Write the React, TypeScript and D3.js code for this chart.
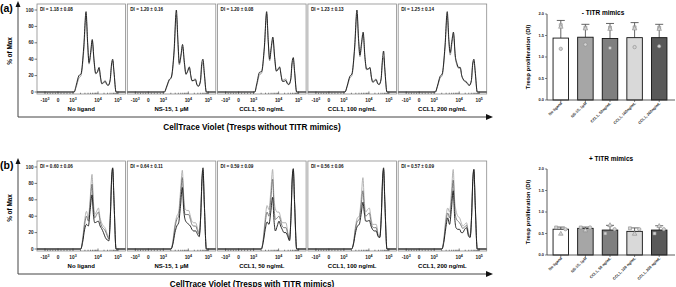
import React from "react";
import * as d3 from "d3";

const FONT = "'Liberation Sans', Arial, Helvetica, sans-serif";

// ---------- histogram panels ----------
const panelLabels = ["No ligand", "NS-15, 1 μM", "CCL1, 50 ng/mL", "CCL1, 100 ng/mL", "CCL1, 200 ng/mL"];
const diTextsA = ["DI = 1.18 ± 0.08", "DI = 1.20 ± 0.16", "DI = 1.20 ± 0.08", "DI = 1.23 ± 0.13", "DI = 1.25 ± 0.14"];
const diTextsB = ["DI = 0.60 ± 0.06", "DI = 0.64 ± 0.11", "DI = 0.59 ± 0.09", "DI = 0.56 ± 0.06", "DI = 0.57 ± 0.09"];
const histYTicks = [0, 20, 40, 60, 80, 100];
// x ticks in decade units: -10^3, 0, 10^3, 10^4, 10^5
const histXTicks = [-1, 0, 1, 2, 3];
const histXTickBase = ["-10", "0", "10", "10", "10"];
const histXTickExp = ["3", "", "3", "4", "5"];

// shared x positions (decade units) for row (a) curves
const xsA = [-2.2, 1.046, 1.126, 1.236, 1.319, 1.43, 1.522, 1.586, 1.641, 1.706, 1.77, 1.844, 1.908, 1.972, 2.053, 2.126, 2.189, 2.273, 2.357, 2.441, 2.515, 2.609, 2.672, 2.735, 2.798, 2.903, 3.3];
// per panel: [black, gray] % of max
const histA = [
  [
    [0, 0, 8, 20, 22, 55, 98, 60, 36, 48, 64, 38, 23, 24, 30, 18, 10, 11, 13, 9, 8, 15, 33, 40, 25, 0, 0],
    [0, 0, 6, 17, 20, 50, 92, 58, 34, 46, 62, 36, 22, 24, 29, 17, 11, 12, 14, 10, 9, 14, 30, 38, 24, 0, 0],
  ],
  [
    [0, 0, 6, 15, 18, 50, 100, 62, 35, 45, 58, 36, 22, 25, 30, 20, 14, 14, 15, 8, 7, 14, 35, 40, 24, 0, 0],
    [0, 0, 5, 14, 17, 46, 94, 58, 33, 43, 55, 34, 21, 26, 31, 19, 13, 15, 16, 9, 8, 13, 30, 36, 22, 0, 0],
  ],
  [
    [0, 0, 10, 24, 25, 55, 98, 62, 40, 55, 67, 42, 26, 27, 30, 20, 13, 13, 14, 10, 9, 16, 36, 42, 26, 0, 0],
    [0, 0, 8, 21, 23, 52, 95, 60, 38, 52, 64, 40, 25, 28, 31, 21, 14, 15, 16, 11, 10, 15, 33, 39, 24, 0, 0],
  ],
  [
    [0, 0, 7, 19, 22, 55, 100, 65, 45, 60, 73, 42, 28, 28, 30, 18, 12, 13, 15, 10, 9, 16, 38, 50, 28, 0, 0],
    [0, 0, 6, 17, 20, 52, 95, 62, 43, 57, 70, 40, 27, 28, 29, 18, 13, 14, 16, 11, 10, 15, 34, 42, 25, 0, 0],
  ],
  [
    [0, 0, 7, 19, 22, 55, 98, 64, 48, 62, 73, 44, 35, 30, 30, 20, 16, 13, 12, 9, 8, 14, 34, 40, 26, 0, 0],
    [0, 0, 6, 17, 20, 52, 93, 60, 45, 58, 70, 42, 33, 29, 29, 20, 16, 14, 13, 10, 9, 14, 32, 38, 24, 0, 0],
  ],
];

// shared x positions (decade units) for row (b) curves
const xsB = [-2.2, 1.31, 1.384, 1.466, 1.54, 1.614, 1.687, 1.761, 1.816, 1.871, 1.945, 2.021, 2.105, 2.179, 2.273, 2.368, 2.462, 2.546, 2.62, 2.683, 2.735, 2.798, 2.903, 3.3];
// per panel: [black, mid gray, light gray]
const histB = [
  [
    [0, 0, 8, 24, 30, 28, 48, 66, 42, 32, 33, 34, 28, 25, 20, 14, 11, 10, 40, 88, 99, 60, 0, 0],
    [0, 0, 10, 30, 40, 34, 55, 79, 50, 38, 42, 45, 34, 28, 25, 22, 16, 12, 42, 85, 98, 60, 0, 0],
    [0, 0, 12, 35, 46, 38, 62, 91, 58, 42, 46, 50, 38, 32, 28, 25, 18, 14, 45, 85, 97, 60, 0, 0],
  ],
  [
    [0, 0, 6, 20, 28, 32, 52, 75, 48, 36, 32, 30, 28, 24, 22, 22, 18, 15, 40, 86, 99, 58, 0, 0],
    [0, 0, 8, 26, 36, 40, 63, 87, 58, 42, 42, 42, 36, 30, 28, 28, 22, 18, 40, 82, 96, 57, 0, 0],
    [0, 0, 10, 30, 40, 45, 70, 96, 65, 49, 47, 47, 40, 34, 32, 32, 25, 20, 40, 80, 93, 55, 0, 0],
  ],
  [
    [0, 0, 8, 24, 33, 30, 45, 63, 35, 22, 28, 34, 28, 24, 20, 20, 15, 10, 40, 88, 98, 58, 0, 0],
    [0, 0, 10, 32, 45, 40, 60, 85, 52, 36, 38, 40, 34, 28, 26, 26, 18, 11, 40, 84, 97, 56, 0, 0],
    [0, 0, 12, 38, 53, 48, 70, 97, 62, 49, 45, 45, 38, 32, 32, 32, 20, 12, 40, 82, 95, 55, 0, 0],
  ],
  [
    [0, 0, 6, 20, 28, 30, 42, 57, 44, 34, 34, 35, 28, 24, 22, 22, 15, 14, 40, 86, 99, 58, 0, 0],
    [0, 0, 7, 25, 34, 36, 52, 71, 50, 40, 42, 44, 33, 27, 26, 26, 16, 15, 40, 82, 97, 56, 0, 0],
    [0, 0, 8, 28, 38, 40, 60, 87, 58, 45, 48, 50, 38, 30, 30, 30, 18, 16, 40, 80, 96, 55, 0, 0],
  ],
  [
    [0, 0, 8, 26, 38, 30, 48, 71, 40, 26, 24, 24, 20, 20, 24, 26, 16, 14, 40, 86, 97, 57, 0, 0],
    [0, 0, 10, 32, 44, 38, 58, 84, 52, 38, 34, 32, 28, 25, 27, 29, 18, 15, 40, 84, 97, 56, 0, 0],
    [0, 0, 12, 38, 50, 45, 68, 97, 60, 47, 40, 38, 32, 28, 30, 32, 20, 16, 40, 82, 96, 55, 0, 0],
  ],
];

// ---------- bar charts ----------
const barCatsA = ["No ligand", "NS-15, 1μM", "CCL1, 50ng/mL", "CCL1, 100ng/mL", "CCL1, 200ng/mL"];
const barCatsB = ["No ligand", "NS-15, 1μM", "CCL1, 50 ng/mL", "CCL1, 100 ng/mL", "CCL1, 200 ng/mL"];
const barFills = ["#ffffff", "#a6a6a6", "#7f7f7f", "#d9d9d9", "#595959"];
const barTicks = [0, 0.5, 1.0, 1.5, 2.0];

const meansA = [1.44, 1.46, 1.43, 1.45, 1.45];
const upperA = [1.85, 1.76, 1.78, 1.8, 1.76];
const pointsA = [
  [1.74, 1.7, 1.19],
  [1.68, 1.66, 1.29],
  [1.68, 1.65, 1.21],
  [1.69, 1.66, 1.23],
  [1.68, 1.65, 1.25],
];
const meansB = [0.6, 0.62, 0.58, 0.55, 0.58];
const upperB = [0.65, 0.65, 0.69, 0.63, 0.68];
const pointsB = [
  [0.64, 0.49, 0.6],
  [0.64, 0.57, 0.64],
  [0.5, 0.69, 0.6],
  [0.62, 0.49, 0.6],
  [0.5, 0.67, 0.6],
];
const jitterA = [0, 0, 0];
const jitterB = [-0.3, 0, 0.3];

function HistRow({ top, tag, title, xs, curves, dis, colors }: any) {
  const pitch = 90.3;
  const pw = 88.5;
  const x0 = 37;
  const yS = d3.scaleLinear().domain([0, 100]).range([top + 92, top + 10]);
  const minor: number[] = [];
  [-0.8, -0.6, -0.4, -0.2, 0.2, 0.4, 0.6, 0.8].forEach((v) => minor.push(v));
  [1, 2].forEach((k) => d3.range(2, 10).forEach((m) => minor.push(k + Math.log10(m))));
  return (
    <g>
      <text x={0} y={top + 12} fontSize={10.5} fontWeight="bold" fontFamily={FONT}>
        {tag}
      </text>
      <line x1={18} y1={top + 6} x2={18} y2={top + 117} stroke="#444" strokeWidth={1} />
      <polygon points={`15.5,${top + 7} 20.5,${top + 7} 18,${top + 1}`} fill="#111" />
      <line x1={18} y1={top + 117} x2={487} y2={top + 117} stroke="#444" strokeWidth={1} />
      <polygon points={`486,${top + 114} 486,${top + 120} 493,${top + 117}`} fill="#111" />
      <text
        transform={`translate(12,${top + 51}) rotate(-90)`}
        textAnchor="middle"
        fontSize={6.4}
        fontWeight="bold"
        fontFamily={FONT}
      >
        % of Max
      </text>
      <text x={252} y={top + 129.5} textAnchor="middle" fontSize={8.2} fontWeight="bold" fontFamily={FONT}>
        {title}
      </text>
      {panelLabels.map((lab, i) => {
        const left = x0 + i * pitch;
        const xS = d3
          .scaleLinear()
          .domain([-2.2, -1, 0, 1, 2, 3, 3.3])
          .range([left, left + 8, left + 21, left + 36, left + 61, left + 81, left + pw]);
        const line = d3
          .line<number>()
          .x((_, k) => xS(xs[k]))
          .y((d) => yS(d))
          .curve(d3.curveMonotoneX);
        const bottom = top + 94;
        return (
          <g key={i}>
            <rect x={left} y={top + 4} width={pw} height={90} fill="#fff" stroke="#8c8c8c" strokeWidth={0.8} />
            {curves[i]
              .map((ys: number[], j: number) => (
                <path key={j} d={line(ys) || ""} fill="none" stroke={colors[j]} strokeWidth={0.9} />
              ))
              .reverse()}
            {histXTicks.map((t) => (
              <line key={t} x1={xS(t)} x2={xS(t)} y1={bottom} y2={bottom - 2.5} stroke="#222" strokeWidth={0.6} />
            ))}
            {minor.map((t, k) => (
              <line key={k} x1={xS(t)} x2={xS(t)} y1={bottom} y2={bottom - 1.3} stroke="#222" strokeWidth={0.5} />
            ))}
            {histXTicks.map((t, k) => (
              <text
                key={t}
                x={xS(t)}
                y={top + 101.5}
                textAnchor="middle"
                fontSize={4.8}
                fontWeight="bold"
                fontFamily={FONT}
                fill="#222"
              >
                {histXTickBase[k]}
                {histXTickExp[k] && (
                  <tspan dy={-2} fontSize={3.6}>
                    {histXTickExp[k]}
                  </tspan>
                )}
              </text>
            ))}
            <text x={left + 3} y={top + 10.5} fontSize={4.6} fontWeight="bold" fontFamily={FONT} fill="#111">
              {dis[i]}
            </text>
            <text
              x={left + pw / 2}
              y={top + 111}
              textAnchor="middle"
              fontSize={6}
              fontWeight="bold"
              fontFamily={FONT}
            >
              {lab}
            </text>
            {i === 0 &&
              histYTicks.map((t) => (
                <g key={t}>
                  <line x1={left - 2.5} x2={left} y1={yS(t)} y2={yS(t)} stroke="#222" strokeWidth={0.6} />
                  <text
                    x={left - 3.5}
                    y={yS(t) + 1.6}
                    textAnchor="end"
                    fontSize={4.6}
                    fontWeight="bold"
                    fontFamily={FONT}
                    fill="#222"
                  >
                    {t}
                  </text>
                </g>
              ))}
          </g>
        );
      })}
    </g>
  );
}

function BarChart({ top, title, titleX, titleY, cats, means, uppers, points, jitter }: any) {
  const axisX = 547;
  const yS = d3.scaleLinear().domain([0, 2]).range([top + 100, top + 14]);
  const xS = d3
    .scaleBand<string>()
    .domain(cats)
    .range([548.5, 671.5])
    .paddingInner(0.37)
    .paddingOuter(0.185);
  const bw = xS.bandwidth();
  const sym = [d3.symbolSquare, d3.symbolTriangle, d3.symbolCircle];
  return (
    <g fontFamily={FONT}>
      <text x={titleX} y={titleY} textAnchor="middle" fontSize={6.5} fontWeight="bold">
        {title}
      </text>
      <text
        transform={`translate(530,${top + 57}) rotate(-90)`}
        textAnchor="middle"
        fontSize={6}
        fontWeight="bold"
      >
        Tresp proliferation (DI)
      </text>
      {cats.map((c: string, i: number) => {
        const x = xS(c) as number;
        const cx = x + bw / 2;
        return (
          <g key={c}>
            <line x1={cx} x2={cx} y1={yS(means[i])} y2={yS(uppers[i])} stroke="#555" strokeWidth={0.9} />
            <line x1={cx - 4} x2={cx + 4} y1={yS(uppers[i])} y2={yS(uppers[i])} stroke="#555" strokeWidth={0.9} />
            <rect
              x={x}
              y={yS(means[i])}
              width={bw}
              height={yS(0) - yS(means[i])}
              fill={barFills[i]}
              stroke="#111"
              strokeWidth={0.9}
            />
            {points[i].map((v: number, k: number) => (
              <path
                key={k}
                d={d3.symbol(sym[k], 9)() || ""}
                transform={`translate(${cx + jitter[k] * bw},${yS(v)})`}
                fill="#d4d4d4"
                stroke="#8a8a8a"
                strokeWidth={0.6}
              />
            ))}
            <line x1={cx} x2={cx} y1={yS(0)} y2={yS(0) + 2} stroke="#333" strokeWidth={0.6} />
            <text
              transform={`translate(${cx + 1.5},${yS(0) + 3.5}) rotate(-45)`}
              textAnchor="end"
              fontSize={3.8}
              fontWeight="bold"
              fill="#222"
            >
              {c}
            </text>
          </g>
        );
      })}
      <line x1={axisX} x2={axisX} y1={yS(2)} y2={yS(0)} stroke="#333" strokeWidth={0.8} />
      <line x1={axisX} x2={675} y1={yS(0)} y2={yS(0)} stroke="#333" strokeWidth={0.8} />
      {barTicks.map((t) => (
        <g key={t}>
          <line x1={axisX - 2} x2={axisX} y1={yS(t)} y2={yS(t)} stroke="#333" strokeWidth={0.6} />
          <text x={axisX - 3} y={yS(t) + 1.4} textAnchor="end" fontSize={4} fontWeight="bold" fill="#222">
            {d3.format(".1f")(t)}
          </text>
        </g>
      ))}
    </g>
  );
}

export default function App() {
  return (
    <svg
      width={676}
      height={287}
      viewBox="0 0 676 287"
      style={{ position: "absolute", left: 0, top: 0, background: "#fff" }}
    >
      <rect width={676} height={287} fill="#fff" />
      <HistRow
        top={0}
        tag="(a)"
        title="CellTrace Violet (Tresps without TITR mimics)"
        xs={xsA}
        curves={histA}
        dis={diTextsA}
        colors={["#151515", "#8c8c8c"]}
      />
      <HistRow
        top={157}
        tag="(b)"
        title="CellTrace Violet (Tresps with TITR mimics)"
        xs={xsB}
        curves={histB}
        dis={diTextsB}
        colors={["#151515", "#6e6e6e", "#ababab"]}
      />
      <BarChart
        top={0}
        title="- TITR mimics"
        titleX={603}
        titleY={15}
        cats={barCatsA}
        means={meansA}
        uppers={upperA}
        points={pointsA}
        jitter={jitterA}
      />
      <BarChart
        top={155}
        title="+ TITR mimics"
        titleX={611}
        titleY={161}
        cats={barCatsB}
        means={meansB}
        uppers={upperB}
        points={pointsB}
        jitter={jitterB}
      />
    </svg>
  );
}
